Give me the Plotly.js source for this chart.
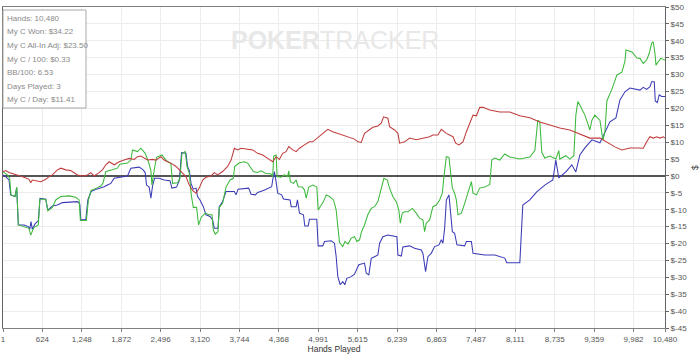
<!DOCTYPE html>
<html>
<head>
<meta charset="utf-8">
<script src="https://cdn.plot.ly/plotly-3.0.1.min.js"></script>
<style>html,body{margin:0;padding:0;background:#fff;}#chart{width:700px;height:354px;}</style>
</head>
<body>
<div id="chart"></div>
<script>
// ---- Data ----
const xTickVals = [1,624,1248,1872,2496,3120,3744,4368,4991,5615,6239,6863,7487,8111,8735,9359,9982,10480];
const xTickText = ["1","624","1,248","1,872","2,496","3,120","3,744","4,368","4,991","5,615","6,239","6,863","7,487","8,111","8,735","9,359","9,982","10,480"];
const yTickVals = [50,45,40,35,30,25,20,15,10,5,0,-5,-10,-15,-20,-25,-30,-35,-40,-45];
const yTickText = ["$50","$45","$40","$35","$30","$25","$20","$15","$10","$5","$0","$-5","$-10","$-15","$-20","$-25","$-30","$-35","$-40","$-45"];

const statLines = ["Hands: 10,480","My C Won: $34.22","My C All-In Adj: $23.50","My C / 100: $0.33","BB/100: 6.53","Days Played: 3","My C / Day: $11.41"];

const greenHands = [1,69,107,128,191,218,244,334,413,440,492,561,583,678,710,783,836,916,1047,1153,1206,1226,1321,1353,1396,1480,1550,1586,1629,1734,1813,1851,1972,2025,2051,2130,2184,2252,2304,2342,2358,2395,2431,2517,2580,2659,2685,2764,2802,2834,2886,2913,2950,2981,3013,3065,3097,3140,3203,3267,3309,3330,3362,3404,3425,3477,3531,3595,3647,3668,3742,3822,3874,3928,3964,4032,4086,4154,4245,4270,4286,4324,4340,4403,4455,4508,4524,4551,4598,4641,4673,4736,4773,4800,4841,4904,4968,4990,5037,5074,5117,5169,5233,5275,5301,5328,5380,5412,5465,5513,5565,5602,5645,5676,5724,5776,5830,5882,5935,5988,6030,6084,6120,6172,6226,6267,6290,6321,6358,6411,6480,6543,6595,6648,6675,6701,6754,6806,6860,6913,6955,6981,7019,7060,7082,7114,7150,7177,7203,7256,7309,7361,7415,7441,7495,7547,7627,7706,7738,7785,7864,7944,8023,8182,8340,8420,8466,8498,8530,8577,8657,8752,8799,8815,8910,8974,9037,9069,9100,9132,9212,9291,9323,9370,9450,9497,9529,9560,9640,9719,9798,9846,9862,9957,10036,10084,10136,10190,10231,10269,10294,10321,10337,10373,10411,10453,10480];
const greenValues = [1.3,0.3,-0.7,-5.6,-6.1,-3.3,-14.5,-15,-15.5,-17.5,-15.2,-14.5,-6.9,-6.9,-10.3,-9.3,-7.1,-6.1,-5.9,-6.3,-7.1,-13.2,-13.2,-7.1,-4.3,-3.6,-3.0,-2.0,1.3,1.8,2.3,3.5,3.8,4.7,7.7,7.2,8.2,6.7,4.2,1.6,-2.7,1.8,5.5,6.2,4.7,3.6,-2.2,-2.0,-0.7,6.7,7.2,2.8,0.8,-5.6,-9.3,-9.3,-14.5,-12.2,-11.0,-11.5,-11.5,-16,-17.2,-16.5,-9.3,-8.1,-3.3,-1.2,-0.7,2.8,3.9,4.2,3.8,2.3,1.3,1.0,1.5,0.8,0.6,-0.2,5.9,6.2,-0.2,-0.4,0.3,-0.2,1.5,-1.7,-2.2,-1.2,-3.2,-3.3,-4.1,-6.6,-3.3,-2.7,-3.3,-10.1,-8.6,-7.6,-5.6,-6.1,-7.1,-10.1,-15,-19.7,-20.9,-19.4,-20.1,-18.4,-18.0,-19.4,-18.9,-16.5,-14.5,-11.5,-9.6,-9.1,-7.6,-4.1,-0.7,-1.2,-3.6,-6.1,-7.6,-10.1,-14.0,-11.0,-10.6,-10.6,-9.6,-11.0,-12.5,-13.0,-16.5,-14.0,-13.0,-9.1,-8.6,-7.1,-5.1,-0.2,5.7,5.5,0.8,-3.6,-5.1,-7.1,-11.5,-11.0,-8.1,-5.1,-1.7,-5.1,-5.6,-3.6,-3.3,-2.5,4.7,5.3,4.7,6.5,5.6,5.0,5.6,7.5,16.5,16.0,7.0,5.3,5.9,5.0,7.5,5.0,6.0,5.0,6.0,18.0,22.0,21.0,18.0,13.6,16.5,18.0,16.5,10.6,13.0,22.2,25.7,29.9,30.7,34.0,37.3,36.7,34.9,34.8,33.3,34.3,36.3,39.3,39.7,36.3,32.8,33.8,34.8,34.5,34.22];

const blueHands = [1,44,96,123,191,218,244,334,402,424,445,465,508,561,588,678,710,783,862,941,1179,1217,1233,1312,1344,1396,1480,1550,1602,1654,1708,1761,1867,1972,2025,2157,2220,2252,2273,2315,2342,2368,2400,2474,2553,2644,2675,2748,2791,2828,2897,2923,2950,2977,3013,3056,3081,3119,3172,3214,3278,3319,3346,3404,3425,3477,3531,3663,3690,3722,3890,3928,3996,4032,4123,4218,4254,4270,4297,4324,4349,4412,4440,4546,4562,4641,4662,4694,4757,4778,4832,4852,4968,4990,5063,5090,5196,5248,5275,5301,5339,5380,5412,5443,5513,5565,5633,5724,5751,5792,5830,5882,5935,5962,6014,6093,6236,6252,6306,6331,6437,6516,6622,6648,6690,6727,6780,6833,6902,6940,6965,6992,7019,7060,7082,7114,7150,7187,7309,7336,7415,7441,7627,7785,7944,7975,8182,8229,8340,8450,8577,8704,8752,8799,8910,9005,9069,9132,9212,9323,9450,9529,9608,9703,9767,9846,9925,10084,10136,10190,10242,10269,10310,10326,10358,10389,10427,10480];
const blueValues = [0.3,-0.2,-1.2,-5.6,-6.1,-3.6,-14.5,-14.5,-15,-15.8,-13.5,-15.8,-14.2,-13.2,-6.6,-6.9,-10.1,-8.9,-8.6,-7.9,-7.6,-8.3,-13,-13,-7.1,-4.6,-3.9,-3.6,-3.2,-2.7,-2.2,-0.7,-0.4,0,2.3,2.6,1.8,1.0,-2.7,-3.3,-6.6,-3.0,-0.7,-0.7,-1.2,-1.4,-3.6,-3.3,-1.4,6.9,6.7,2.8,1.6,-2.2,-3.9,-3.6,-6.1,-7.1,-9.1,-11.5,-12.0,-13.0,-15.5,-15.5,-9.1,-7.6,-4.6,-4.6,-5.6,-3.9,-3.6,-5.4,-5.6,-4.9,-4.3,-3.6,-3.2,-1.2,1.3,-1.7,-5.1,-5.6,-6.8,-7.1,-9.1,-9.1,-7.1,-11.0,-11.5,-14.8,-14.8,-12.8,-12.8,-20.7,-20.7,-19.4,-19.2,-19.9,-23.9,-29.8,-32.2,-31.3,-32.2,-30.3,-29.8,-29.1,-26.3,-25.8,-28.8,-29.3,-24.4,-23.9,-23.4,-19.9,-18.0,-17.5,-18.0,-23.4,-23.7,-21.0,-20.7,-21.4,-21.9,-22.9,-28.3,-23.9,-22.9,-20.9,-20.4,-18.9,-19.9,-15.5,-7.1,-5.6,-10.1,-16.5,-17.0,-20.4,-20.7,-19.4,-19.4,-22.9,-23.4,-23.4,-24.3,-25.7,-25.7,-8.6,-7.1,-4.7,-2.7,-1.2,4.7,-0.6,1.2,3.3,1.2,6.2,8.3,10.7,9.8,13.0,16.0,17.2,22.5,24.9,26.0,25.4,26.2,25.6,26.4,27.9,27.9,22.2,21.7,24.0,23.5,23.5];

const redHands = [1,44,96,175,255,334,413,440,465,545,599,678,730,783,862,916,995,1074,1127,1179,1258,1337,1391,1444,1523,1575,1629,1681,1761,1840,1919,1998,2078,2130,2184,2236,2289,2368,2422,2501,2553,2606,2659,2739,2818,2897,2950,3002,3056,3108,3161,3214,3294,3346,3398,3477,3557,3611,3663,3715,3769,3848,3953,4032,4112,4191,4270,4324,4376,4428,4482,4524,4587,4641,4694,4773,4852,4904,4958,5010,5063,5142,5221,5301,5380,5486,5565,5618,5671,5724,5803,5856,5935,5988,6025,6093,6120,6199,6252,6279,6358,6437,6543,6648,6754,6806,6886,6940,7019,7124,7166,7218,7282,7336,7388,7441,7495,7547,7601,7706,7864,8023,8182,8340,8498,8657,8815,8974,9132,9291,9450,9576,9687,9798,9925,10052,10136,10190,10242,10294,10348,10400,10453,10480];
const redValues = [1.3,1.6,1.0,0.6,0,-0.4,-1.0,-2.0,-1.2,-1.5,-1.7,-1.0,-0.2,0.3,1.8,2.3,1.8,1.6,1.0,0.3,0,0.3,1.0,0,1.0,1.8,3.3,4.2,3.3,4.2,4.7,5.2,4.9,5.7,5.9,5.2,4.7,4.9,4.7,5.7,4.7,4.2,3.8,2.8,1.3,-0.2,-2.7,-4.3,-5.1,-3.6,-1.2,-0.4,0,1.0,0.3,1.3,2.8,4.7,8.2,7.7,8.2,7.9,7.7,6.7,6.2,5.2,4.2,5.7,4.9,6.7,7.2,8.7,7.7,7.2,8.2,9.2,10.1,10.1,10.9,11.8,12.7,13.8,13.1,12.6,12.1,11.6,10.9,10.1,9.9,12.6,13.6,14.4,14.8,15.6,17.5,17.1,14.6,13.6,12.6,9.7,10.1,11.2,10.7,11.2,11.6,12.1,12.1,13.8,12.6,11.6,9.7,9.2,10.1,13.1,15.6,18.0,17.8,20.3,20.3,19.5,18.9,18.9,17.8,17.2,16.0,15.1,14.2,13.6,12.4,11.2,11.2,9.8,8.6,7.7,8.3,8.3,8.2,10.1,11.6,11.2,11.6,11.2,11.6,11.2];

// ---- Geometry helpers (plot area in pixels) ----
const W = 700, H = 354;
const M = {l: 3, r: 35, t: 7, b: 26};
const plotW = W - M.l - M.r, plotH = H - M.t - M.b;
const px2paperX = px => (px - M.l) / plotW;
const py2paperY = py => (H - M.b - py) / plotH;

const fontFam = 'Liberation Sans, Arial, sans-serif';

const traces = [
  {x: blueHands, y: blueValues, type: 'scatter', mode: 'lines', line: {color: '#3b3bb8', width: 1.05}, hoverinfo: 'skip'},
  {x: greenHands, y: greenValues, type: 'scatter', mode: 'lines', line: {color: '#3cb93c', width: 1.05}, hoverinfo: 'skip'},
  {x: redHands, y: redValues, type: 'scatter', mode: 'lines', line: {color: '#c03c3c', width: 1.05}, hoverinfo: 'skip'}
];

const annotations = [];
// watermark
annotations.push({
  xref: 'paper', yref: 'paper', x: px2paperX(335), y: py2paperY(40),
  xanchor: 'center', yanchor: 'middle', showarrow: false,
  text: '<b>POKER</b>TRACKER',
  font: {family: fontFam, size: 25, color: '#e8e8e8'}
});
// stats box lines
statLines.forEach((t, i) => {
  annotations.push({
    xref: 'paper', yref: 'paper', x: px2paperX(4.5), y: py2paperY(18.3 + i * 13.6),
    xanchor: 'left', yanchor: 'middle', showarrow: false, text: t,
    font: {family: fontFam, size: 8, color: '#8a8a8a'}
  });
});

const layout = {
  width: W, height: H, margin: M,
  paper_bgcolor: '#ffffff', plot_bgcolor: '#ffffff',
  showlegend: false,
  font: {family: fontFam, size: 8, color: '#444'},
  xaxis: {
    range: [1, 10480], tickmode: 'array', tickvals: xTickVals, ticktext: xTickText,
    showgrid: true, gridcolor: '#ececec', gridwidth: 1, zeroline: false,
    showline: true, linecolor: '#808080', linewidth: 1, mirror: true,
    ticks: 'outside', ticklen: 3, tickcolor: '#808080',
    tickfont: {family: fontFam, size: 8, color: '#555'},
    title: {text: 'Hands Played', font: {family: fontFam, size: 8.5, color: '#333'}, standoff: 3},
    automargin: false, fixedrange: true
  },
  yaxis: {
    side: 'right', range: [-45, 50], tickmode: 'array', tickvals: yTickVals, ticktext: yTickText,
    showgrid: true, gridcolor: '#ececec', gridwidth: 1,
    zeroline: true, zerolinecolor: '#555', zerolinewidth: 1.3,
    showline: true, linecolor: '#666', linewidth: 1, mirror: true,
    ticks: 'outside', ticklen: 3, tickcolor: '#666',
    tickfont: {family: fontFam, size: 8, color: '#555'},
    title: {text: '$', font: {family: fontFam, size: 8.5, color: '#333'}, standoff: 6},
    automargin: false, fixedrange: true
  },
  shapes: [{
    type: 'rect', xref: 'paper', yref: 'paper', layer: 'above',
    x0: px2paperX(3), x1: px2paperX(86), y0: py2paperY(108), y1: py2paperY(10),
    fillcolor: '#ffffff', line: {color: '#a8a8a8', width: 1}
  }],
  annotations: annotations
};

Plotly.newPlot('chart', traces, layout, {staticPlot: true, displayModeBar: false});
</script>
</body>
</html>
